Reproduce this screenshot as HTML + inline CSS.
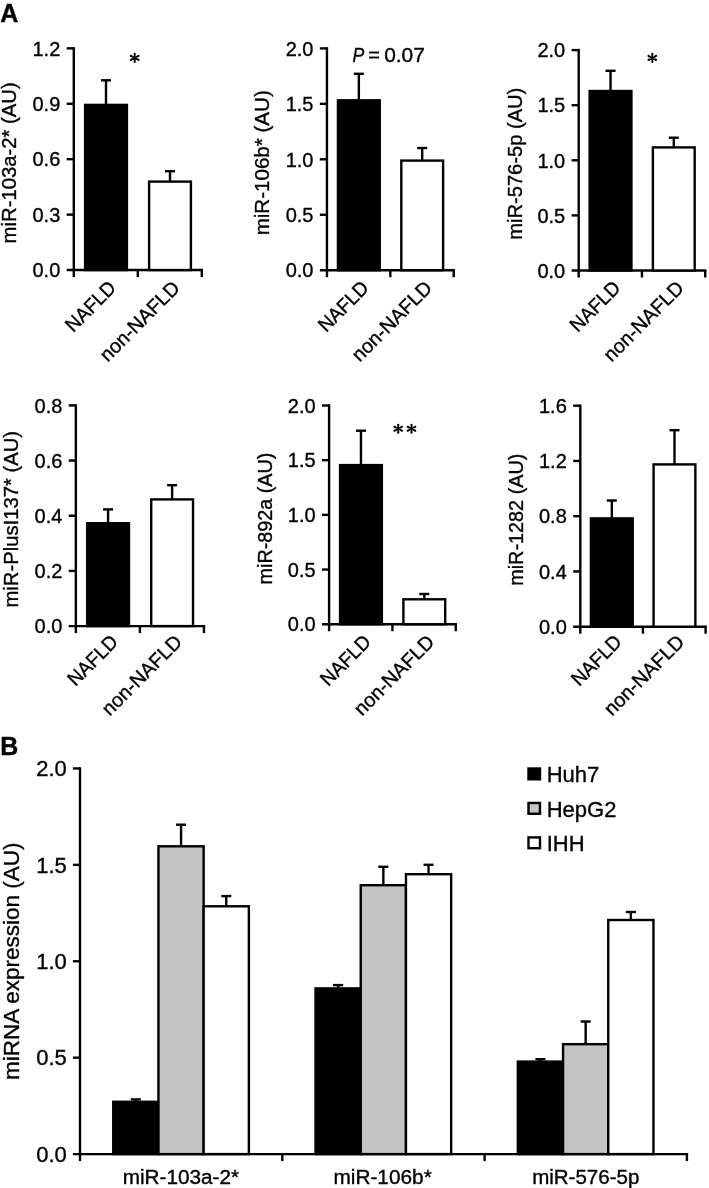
<!DOCTYPE html><html><head><meta charset="utf-8"><style>html,body{margin:0;padding:0;background:#fff;width:709px;height:1188px;overflow:hidden}svg{display:block;filter:grayscale(1)}text{font-family:"Liberation Sans", sans-serif;fill:#000;stroke:#000;stroke-width:0.35px}</style></head><body>
<svg width="709" height="1188" viewBox="0 0 709 1188">
<rect width="709" height="1188" fill="#fff"/>
<g>
<text class="pl" x="0.20" y="21.70" font-size="25" text-anchor="start" font-weight="bold">A</text>
<text class="pl" x="0.20" y="755.40" font-size="25" text-anchor="start" font-weight="bold">B</text>
<line class="ln" x1="73.80" y1="47.15" x2="73.80" y2="271.25" stroke="#000" stroke-width="2.4"/>
<line class="ln" x1="66.70" y1="270.05" x2="203.00" y2="270.05" stroke="#000" stroke-width="2.4"/>
<text class="tl" x="60.30" y="277.25" font-size="20" text-anchor="end" >0.0</text>
<line class="ln" x1="66.70" y1="214.62" x2="73.80" y2="214.62" stroke="#000" stroke-width="2.4"/>
<text class="tl" x="60.30" y="221.82" font-size="20" text-anchor="end" >0.3</text>
<line class="ln" x1="66.70" y1="159.20" x2="73.80" y2="159.20" stroke="#000" stroke-width="2.4"/>
<text class="tl" x="60.30" y="166.40" font-size="20" text-anchor="end" >0.6</text>
<line class="ln" x1="66.70" y1="103.78" x2="73.80" y2="103.78" stroke="#000" stroke-width="2.4"/>
<text class="tl" x="60.30" y="110.98" font-size="20" text-anchor="end" >0.9</text>
<line class="ln" x1="66.70" y1="48.35" x2="73.80" y2="48.35" stroke="#000" stroke-width="2.4"/>
<text class="tl" x="60.30" y="55.55" font-size="20" text-anchor="end" >1.2</text>
<line class="ln" x1="73.80" y1="270.05" x2="73.80" y2="277.05" stroke="#000" stroke-width="2.4"/>
<line class="ln" x1="137.80" y1="270.05" x2="137.80" y2="277.05" stroke="#000" stroke-width="2.4"/>
<line class="ln" x1="201.80" y1="270.05" x2="201.80" y2="277.05" stroke="#000" stroke-width="2.4"/>
<line class="ln" x1="106.00" y1="104.90" x2="106.00" y2="80.30" stroke="#000" stroke-width="2.4"/>
<line class="ln" x1="101.00" y1="80.30" x2="111.00" y2="80.30" stroke="#000" stroke-width="2.4"/>
<rect class="bar" x="85.10" y="104.90" width="41.80" height="165.15" fill="#000" stroke="#000" stroke-width="2.4"/>
<line class="ln" x1="170.00" y1="181.60" x2="170.00" y2="171.20" stroke="#000" stroke-width="2.4"/>
<line class="ln" x1="165.00" y1="171.20" x2="175.00" y2="171.20" stroke="#000" stroke-width="2.4"/>
<rect class="bar" x="149.10" y="181.60" width="41.80" height="88.45" fill="#fff" stroke="#000" stroke-width="2.4"/>
<text class="xl" x="117.20" y="289.20" font-size="20" text-anchor="end" textLength="62.0" lengthAdjust="spacingAndGlyphs" transform="rotate(-45 117.20 289.20)">NAFLD</text>
<text class="xl" x="181.20" y="289.20" font-size="20" text-anchor="end" textLength="104.0" lengthAdjust="spacingAndGlyphs" transform="rotate(-45 181.20 289.20)">non-NAFLD</text>
<text class="yt" x="15.70" y="162.85" font-size="20" text-anchor="middle" textLength="161.1" lengthAdjust="spacingAndGlyphs" transform="rotate(-90 15.70 162.85)">miR-103a-2* (AU)</text>
<path class="ast" d="M135.32 57.90L135.77 53.90L133.62 53.90L134.07 57.90ZM133.62 53.90a1.075 1.075 0 1 0 2.15 0a1.075 1.075 0 1 0 -2.15 0ZM134.07 57.90L133.62 61.90L135.77 61.90L135.32 57.90ZM133.62 61.90a1.075 1.075 0 1 0 2.15 0a1.075 1.075 0 1 0 -2.15 0ZM134.99 58.45L138.96 56.85L137.95 54.96L134.41 57.35ZM137.38 55.90a1.075 1.075 0 1 0 2.15 0a1.075 1.075 0 1 0 -2.15 0ZM134.99 57.35L131.45 54.96L130.44 56.85L134.41 58.45ZM129.87 55.90a1.075 1.075 0 1 0 2.15 0a1.075 1.075 0 1 0 -2.15 0ZM134.41 57.35L130.44 58.95L131.45 60.84L134.99 58.45ZM129.87 59.90a1.075 1.075 0 1 0 2.15 0a1.075 1.075 0 1 0 -2.15 0ZM134.41 58.45L137.95 60.84L138.96 58.95L134.99 57.35ZM137.38 59.90a1.075 1.075 0 1 0 2.15 0a1.075 1.075 0 1 0 -2.15 0Z" fill="#000" fill-rule="nonzero"/>
<line class="ln" x1="326.95" y1="47.20" x2="326.95" y2="271.40" stroke="#000" stroke-width="2.4"/>
<line class="ln" x1="319.85" y1="270.20" x2="454.90" y2="270.20" stroke="#000" stroke-width="2.4"/>
<text class="tl" x="313.45" y="277.40" font-size="20" text-anchor="end" >0.0</text>
<line class="ln" x1="319.85" y1="214.75" x2="326.95" y2="214.75" stroke="#000" stroke-width="2.4"/>
<text class="tl" x="313.45" y="221.95" font-size="20" text-anchor="end" >0.5</text>
<line class="ln" x1="319.85" y1="159.30" x2="326.95" y2="159.30" stroke="#000" stroke-width="2.4"/>
<text class="tl" x="313.45" y="166.50" font-size="20" text-anchor="end" >1.0</text>
<line class="ln" x1="319.85" y1="103.85" x2="326.95" y2="103.85" stroke="#000" stroke-width="2.4"/>
<text class="tl" x="313.45" y="111.05" font-size="20" text-anchor="end" >1.5</text>
<line class="ln" x1="319.85" y1="48.40" x2="326.95" y2="48.40" stroke="#000" stroke-width="2.4"/>
<text class="tl" x="313.45" y="55.60" font-size="20" text-anchor="end" >2.0</text>
<line class="ln" x1="326.95" y1="270.20" x2="326.95" y2="277.20" stroke="#000" stroke-width="2.4"/>
<line class="ln" x1="390.32" y1="270.20" x2="390.32" y2="277.20" stroke="#000" stroke-width="2.4"/>
<line class="ln" x1="453.70" y1="270.20" x2="453.70" y2="277.20" stroke="#000" stroke-width="2.4"/>
<line class="ln" x1="358.84" y1="100.30" x2="358.84" y2="73.80" stroke="#000" stroke-width="2.4"/>
<line class="ln" x1="353.84" y1="73.80" x2="363.84" y2="73.80" stroke="#000" stroke-width="2.4"/>
<rect class="bar" x="337.94" y="100.30" width="41.80" height="169.90" fill="#000" stroke="#000" stroke-width="2.4"/>
<line class="ln" x1="422.21" y1="160.60" x2="422.21" y2="148.00" stroke="#000" stroke-width="2.4"/>
<line class="ln" x1="417.21" y1="148.00" x2="427.21" y2="148.00" stroke="#000" stroke-width="2.4"/>
<rect class="bar" x="401.31" y="160.60" width="41.80" height="109.60" fill="#fff" stroke="#000" stroke-width="2.4"/>
<text class="xl" x="370.04" y="289.20" font-size="20" text-anchor="end" textLength="62.0" lengthAdjust="spacingAndGlyphs" transform="rotate(-45 370.04 289.20)">NAFLD</text>
<text class="xl" x="433.41" y="289.20" font-size="20" text-anchor="end" textLength="104.0" lengthAdjust="spacingAndGlyphs" transform="rotate(-45 433.41 289.20)">non-NAFLD</text>
<text class="yt" x="268.75" y="162.80" font-size="20" text-anchor="middle" textLength="145.1" lengthAdjust="spacingAndGlyphs" transform="rotate(-90 268.75 162.80)">miR-106b* (AU)</text>
<text class="t" x="352.5" y="62" font-size="20" font-style="italic" textLength="11.8" lengthAdjust="spacingAndGlyphs">P</text>
<text class="t" x="374.2" y="62" font-size="20" text-anchor="middle">=</text>
<text class="t" x="384.2" y="62" font-size="20" textLength="40.6" lengthAdjust="spacingAndGlyphs">0.07</text>
<line class="ln" x1="578.70" y1="48.90" x2="578.70" y2="271.70" stroke="#000" stroke-width="2.4"/>
<line class="ln" x1="571.60" y1="270.50" x2="706.40" y2="270.50" stroke="#000" stroke-width="2.4"/>
<text class="tl" x="565.20" y="277.70" font-size="20" text-anchor="end" >0.0</text>
<line class="ln" x1="571.60" y1="215.40" x2="578.70" y2="215.40" stroke="#000" stroke-width="2.4"/>
<text class="tl" x="565.20" y="222.60" font-size="20" text-anchor="end" >0.5</text>
<line class="ln" x1="571.60" y1="160.30" x2="578.70" y2="160.30" stroke="#000" stroke-width="2.4"/>
<text class="tl" x="565.20" y="167.50" font-size="20" text-anchor="end" >1.0</text>
<line class="ln" x1="571.60" y1="105.20" x2="578.70" y2="105.20" stroke="#000" stroke-width="2.4"/>
<text class="tl" x="565.20" y="112.40" font-size="20" text-anchor="end" >1.5</text>
<line class="ln" x1="571.60" y1="50.10" x2="578.70" y2="50.10" stroke="#000" stroke-width="2.4"/>
<text class="tl" x="565.20" y="57.30" font-size="20" text-anchor="end" >2.0</text>
<line class="ln" x1="578.70" y1="270.50" x2="578.70" y2="277.50" stroke="#000" stroke-width="2.4"/>
<line class="ln" x1="641.95" y1="270.50" x2="641.95" y2="277.50" stroke="#000" stroke-width="2.4"/>
<line class="ln" x1="705.20" y1="270.50" x2="705.20" y2="277.50" stroke="#000" stroke-width="2.4"/>
<line class="ln" x1="610.53" y1="91.00" x2="610.53" y2="70.80" stroke="#000" stroke-width="2.4"/>
<line class="ln" x1="605.53" y1="70.80" x2="615.53" y2="70.80" stroke="#000" stroke-width="2.4"/>
<rect class="bar" x="589.63" y="91.00" width="41.80" height="179.50" fill="#000" stroke="#000" stroke-width="2.4"/>
<line class="ln" x1="673.78" y1="147.40" x2="673.78" y2="137.70" stroke="#000" stroke-width="2.4"/>
<line class="ln" x1="668.78" y1="137.70" x2="678.78" y2="137.70" stroke="#000" stroke-width="2.4"/>
<rect class="bar" x="652.88" y="147.40" width="41.80" height="123.10" fill="#fff" stroke="#000" stroke-width="2.4"/>
<text class="xl" x="621.73" y="289.20" font-size="20" text-anchor="end" textLength="62.0" lengthAdjust="spacingAndGlyphs" transform="rotate(-45 621.73 289.20)">NAFLD</text>
<text class="xl" x="684.98" y="289.20" font-size="20" text-anchor="end" textLength="104.0" lengthAdjust="spacingAndGlyphs" transform="rotate(-45 684.98 289.20)">non-NAFLD</text>
<text class="yt" x="522.40" y="163.70" font-size="20" text-anchor="middle" textLength="152" lengthAdjust="spacingAndGlyphs" transform="rotate(-90 522.40 163.70)">miR-576-5p (AU)</text>
<path class="ast" d="M652.92 57.95L653.38 53.95L651.22 53.95L651.67 57.95ZM651.22 53.95a1.075 1.075 0 1 0 2.15 0a1.075 1.075 0 1 0 -2.15 0ZM651.67 57.95L651.22 61.95L653.38 61.95L652.92 57.95ZM651.22 61.95a1.075 1.075 0 1 0 2.15 0a1.075 1.075 0 1 0 -2.15 0ZM652.59 58.50L656.56 56.90L655.55 55.01L652.01 57.40ZM654.98 55.95a1.075 1.075 0 1 0 2.15 0a1.075 1.075 0 1 0 -2.15 0ZM652.59 57.40L649.05 55.01L648.04 56.90L652.01 58.50ZM647.47 55.95a1.075 1.075 0 1 0 2.15 0a1.075 1.075 0 1 0 -2.15 0ZM652.01 57.40L648.04 59.00L649.05 60.89L652.59 58.50ZM647.47 59.95a1.075 1.075 0 1 0 2.15 0a1.075 1.075 0 1 0 -2.15 0ZM652.01 58.50L655.55 60.89L656.56 59.00L652.59 57.40ZM654.98 59.95a1.075 1.075 0 1 0 2.15 0a1.075 1.075 0 1 0 -2.15 0Z" fill="#000" fill-rule="nonzero"/>
<line class="ln" x1="75.85" y1="404.20" x2="75.85" y2="627.30" stroke="#000" stroke-width="2.4"/>
<line class="ln" x1="68.75" y1="626.10" x2="205.15" y2="626.10" stroke="#000" stroke-width="2.4"/>
<text class="tl" x="62.35" y="633.30" font-size="20" text-anchor="end" >0.0</text>
<line class="ln" x1="68.75" y1="570.92" x2="75.85" y2="570.92" stroke="#000" stroke-width="2.4"/>
<text class="tl" x="62.35" y="578.12" font-size="20" text-anchor="end" >0.2</text>
<line class="ln" x1="68.75" y1="515.75" x2="75.85" y2="515.75" stroke="#000" stroke-width="2.4"/>
<text class="tl" x="62.35" y="522.95" font-size="20" text-anchor="end" >0.4</text>
<line class="ln" x1="68.75" y1="460.57" x2="75.85" y2="460.57" stroke="#000" stroke-width="2.4"/>
<text class="tl" x="62.35" y="467.77" font-size="20" text-anchor="end" >0.6</text>
<line class="ln" x1="68.75" y1="405.40" x2="75.85" y2="405.40" stroke="#000" stroke-width="2.4"/>
<text class="tl" x="62.35" y="412.60" font-size="20" text-anchor="end" >0.8</text>
<line class="ln" x1="75.85" y1="626.10" x2="75.85" y2="633.10" stroke="#000" stroke-width="2.4"/>
<line class="ln" x1="139.90" y1="626.10" x2="139.90" y2="633.10" stroke="#000" stroke-width="2.4"/>
<line class="ln" x1="203.95" y1="626.10" x2="203.95" y2="633.10" stroke="#000" stroke-width="2.4"/>
<line class="ln" x1="108.08" y1="523.20" x2="108.08" y2="509.40" stroke="#000" stroke-width="2.4"/>
<line class="ln" x1="103.08" y1="509.40" x2="113.08" y2="509.40" stroke="#000" stroke-width="2.4"/>
<rect class="bar" x="87.18" y="523.20" width="41.80" height="102.90" fill="#000" stroke="#000" stroke-width="2.4"/>
<line class="ln" x1="172.12" y1="499.40" x2="172.12" y2="485.20" stroke="#000" stroke-width="2.4"/>
<line class="ln" x1="167.12" y1="485.20" x2="177.12" y2="485.20" stroke="#000" stroke-width="2.4"/>
<rect class="bar" x="151.22" y="499.40" width="41.80" height="126.70" fill="#fff" stroke="#000" stroke-width="2.4"/>
<text class="xl" x="119.28" y="643.20" font-size="20" text-anchor="end" textLength="62.0" lengthAdjust="spacingAndGlyphs" transform="rotate(-45 119.28 643.20)">NAFLD</text>
<text class="xl" x="183.32" y="643.20" font-size="20" text-anchor="end" textLength="104.0" lengthAdjust="spacingAndGlyphs" transform="rotate(-45 183.32 643.20)">non-NAFLD</text>
<text class="yt" x="17.60" y="519.20" font-size="20" text-anchor="middle" textLength="176.6" lengthAdjust="spacingAndGlyphs" transform="rotate(-90 17.60 519.20)">miR-PlusI137* (AU)</text>
<line class="ln" x1="329.10" y1="404.30" x2="329.10" y2="625.45" stroke="#000" stroke-width="2.4"/>
<line class="ln" x1="322.00" y1="624.25" x2="456.95" y2="624.25" stroke="#000" stroke-width="2.4"/>
<text class="tl" x="315.60" y="631.45" font-size="20" text-anchor="end" >0.0</text>
<line class="ln" x1="322.00" y1="569.56" x2="329.10" y2="569.56" stroke="#000" stroke-width="2.4"/>
<text class="tl" x="315.60" y="576.76" font-size="20" text-anchor="end" >0.5</text>
<line class="ln" x1="322.00" y1="514.88" x2="329.10" y2="514.88" stroke="#000" stroke-width="2.4"/>
<text class="tl" x="315.60" y="522.08" font-size="20" text-anchor="end" >1.0</text>
<line class="ln" x1="322.00" y1="460.19" x2="329.10" y2="460.19" stroke="#000" stroke-width="2.4"/>
<text class="tl" x="315.60" y="467.39" font-size="20" text-anchor="end" >1.5</text>
<line class="ln" x1="322.00" y1="405.50" x2="329.10" y2="405.50" stroke="#000" stroke-width="2.4"/>
<text class="tl" x="315.60" y="412.70" font-size="20" text-anchor="end" >2.0</text>
<line class="ln" x1="329.10" y1="624.25" x2="329.10" y2="631.25" stroke="#000" stroke-width="2.4"/>
<line class="ln" x1="392.43" y1="624.25" x2="392.43" y2="631.25" stroke="#000" stroke-width="2.4"/>
<line class="ln" x1="455.75" y1="624.25" x2="455.75" y2="631.25" stroke="#000" stroke-width="2.4"/>
<line class="ln" x1="360.96" y1="465.10" x2="360.96" y2="430.70" stroke="#000" stroke-width="2.4"/>
<line class="ln" x1="355.96" y1="430.70" x2="365.96" y2="430.70" stroke="#000" stroke-width="2.4"/>
<rect class="bar" x="340.06" y="465.10" width="41.80" height="159.15" fill="#000" stroke="#000" stroke-width="2.4"/>
<line class="ln" x1="424.29" y1="599.30" x2="424.29" y2="594.00" stroke="#000" stroke-width="2.4"/>
<line class="ln" x1="419.29" y1="594.00" x2="429.29" y2="594.00" stroke="#000" stroke-width="2.4"/>
<rect class="bar" x="403.39" y="599.30" width="41.80" height="24.95" fill="#fff" stroke="#000" stroke-width="2.4"/>
<text class="xl" x="372.16" y="643.20" font-size="20" text-anchor="end" textLength="62.0" lengthAdjust="spacingAndGlyphs" transform="rotate(-45 372.16 643.20)">NAFLD</text>
<text class="xl" x="435.49" y="643.20" font-size="20" text-anchor="end" textLength="104.0" lengthAdjust="spacingAndGlyphs" transform="rotate(-45 435.49 643.20)">non-NAFLD</text>
<text class="yt" x="272.40" y="518.55" font-size="20" text-anchor="middle" textLength="131.7" lengthAdjust="spacingAndGlyphs" transform="rotate(-90 272.40 518.55)">miR-892a (AU)</text>
<path class="ast" d="M398.82 428.80L399.27 424.80L397.12 424.80L397.57 428.80ZM397.12 424.80a1.075 1.075 0 1 0 2.15 0a1.075 1.075 0 1 0 -2.15 0ZM397.57 428.80L397.12 432.80L399.27 432.80L398.82 428.80ZM397.12 432.80a1.075 1.075 0 1 0 2.15 0a1.075 1.075 0 1 0 -2.15 0ZM398.49 429.35L402.46 427.75L401.45 425.86L397.91 428.25ZM400.88 426.80a1.075 1.075 0 1 0 2.15 0a1.075 1.075 0 1 0 -2.15 0ZM398.49 428.25L394.95 425.86L393.94 427.75L397.91 429.35ZM393.37 426.80a1.075 1.075 0 1 0 2.15 0a1.075 1.075 0 1 0 -2.15 0ZM397.91 428.25L393.94 429.85L394.95 431.74L398.49 429.35ZM393.37 430.80a1.075 1.075 0 1 0 2.15 0a1.075 1.075 0 1 0 -2.15 0ZM397.91 429.35L401.45 431.74L402.46 429.85L398.49 428.25ZM400.88 430.80a1.075 1.075 0 1 0 2.15 0a1.075 1.075 0 1 0 -2.15 0Z" fill="#000" fill-rule="nonzero"/>
<path class="ast" d="M412.12 428.80L412.57 424.80L410.43 424.80L410.88 428.80ZM410.43 424.80a1.075 1.075 0 1 0 2.15 0a1.075 1.075 0 1 0 -2.15 0ZM410.88 428.80L410.43 432.80L412.57 432.80L412.12 428.80ZM410.43 432.80a1.075 1.075 0 1 0 2.15 0a1.075 1.075 0 1 0 -2.15 0ZM411.79 429.35L415.76 427.75L414.75 425.86L411.21 428.25ZM414.18 426.80a1.075 1.075 0 1 0 2.15 0a1.075 1.075 0 1 0 -2.15 0ZM411.79 428.25L408.25 425.86L407.24 427.75L411.21 429.35ZM406.67 426.80a1.075 1.075 0 1 0 2.15 0a1.075 1.075 0 1 0 -2.15 0ZM411.21 428.25L407.24 429.85L408.25 431.74L411.79 429.35ZM406.67 430.80a1.075 1.075 0 1 0 2.15 0a1.075 1.075 0 1 0 -2.15 0ZM411.21 429.35L414.75 431.74L415.76 429.85L411.79 428.25ZM414.18 430.80a1.075 1.075 0 1 0 2.15 0a1.075 1.075 0 1 0 -2.15 0Z" fill="#000" fill-rule="nonzero"/>
<line class="ln" x1="580.30" y1="404.50" x2="580.30" y2="627.90" stroke="#000" stroke-width="2.4"/>
<line class="ln" x1="573.20" y1="626.70" x2="706.80" y2="626.70" stroke="#000" stroke-width="2.4"/>
<text class="tl" x="566.80" y="633.90" font-size="20" text-anchor="end" >0.0</text>
<line class="ln" x1="573.20" y1="571.45" x2="580.30" y2="571.45" stroke="#000" stroke-width="2.4"/>
<text class="tl" x="566.80" y="578.65" font-size="20" text-anchor="end" >0.4</text>
<line class="ln" x1="573.20" y1="516.20" x2="580.30" y2="516.20" stroke="#000" stroke-width="2.4"/>
<text class="tl" x="566.80" y="523.40" font-size="20" text-anchor="end" >0.8</text>
<line class="ln" x1="573.20" y1="460.95" x2="580.30" y2="460.95" stroke="#000" stroke-width="2.4"/>
<text class="tl" x="566.80" y="468.15" font-size="20" text-anchor="end" >1.2</text>
<line class="ln" x1="573.20" y1="405.70" x2="580.30" y2="405.70" stroke="#000" stroke-width="2.4"/>
<text class="tl" x="566.80" y="412.90" font-size="20" text-anchor="end" >1.6</text>
<line class="ln" x1="580.30" y1="626.70" x2="580.30" y2="633.70" stroke="#000" stroke-width="2.4"/>
<line class="ln" x1="642.95" y1="626.70" x2="642.95" y2="633.70" stroke="#000" stroke-width="2.4"/>
<line class="ln" x1="705.60" y1="626.70" x2="705.60" y2="633.70" stroke="#000" stroke-width="2.4"/>
<line class="ln" x1="611.83" y1="518.40" x2="611.83" y2="500.50" stroke="#000" stroke-width="2.4"/>
<line class="ln" x1="606.83" y1="500.50" x2="616.83" y2="500.50" stroke="#000" stroke-width="2.4"/>
<rect class="bar" x="590.93" y="518.40" width="41.80" height="108.30" fill="#000" stroke="#000" stroke-width="2.4"/>
<line class="ln" x1="674.48" y1="464.40" x2="674.48" y2="430.20" stroke="#000" stroke-width="2.4"/>
<line class="ln" x1="669.48" y1="430.20" x2="679.48" y2="430.20" stroke="#000" stroke-width="2.4"/>
<rect class="bar" x="653.58" y="464.40" width="41.80" height="162.30" fill="#fff" stroke="#000" stroke-width="2.4"/>
<text class="xl" x="623.02" y="643.20" font-size="20" text-anchor="end" textLength="62.0" lengthAdjust="spacingAndGlyphs" transform="rotate(-45 623.02 643.20)">NAFLD</text>
<text class="xl" x="685.67" y="643.20" font-size="20" text-anchor="end" textLength="104.0" lengthAdjust="spacingAndGlyphs" transform="rotate(-45 685.67 643.20)">non-NAFLD</text>
<text class="yt" x="522.80" y="519.70" font-size="20" text-anchor="middle" textLength="132.2" lengthAdjust="spacingAndGlyphs" transform="rotate(-90 522.80 519.70)">miR-1282 (AU)</text>
<line class="ln" x1="80.00" y1="767.25" x2="80.00" y2="1155.30" stroke="#000" stroke-width="2.4"/>
<line class="ln" x1="72.90" y1="1154.10" x2="688.10" y2="1154.10" stroke="#000" stroke-width="2.4"/>
<text class="tl" x="66.80" y="1161.80" font-size="22" text-anchor="end" >0.0</text>
<line class="ln" x1="72.90" y1="1057.69" x2="80.00" y2="1057.69" stroke="#000" stroke-width="2.4"/>
<text class="tl" x="66.80" y="1065.39" font-size="22" text-anchor="end" >0.5</text>
<line class="ln" x1="72.90" y1="961.27" x2="80.00" y2="961.27" stroke="#000" stroke-width="2.4"/>
<text class="tl" x="66.80" y="968.98" font-size="22" text-anchor="end" >1.0</text>
<line class="ln" x1="72.90" y1="864.86" x2="80.00" y2="864.86" stroke="#000" stroke-width="2.4"/>
<text class="tl" x="66.80" y="872.56" font-size="22" text-anchor="end" >1.5</text>
<line class="ln" x1="72.90" y1="768.45" x2="80.00" y2="768.45" stroke="#000" stroke-width="2.4"/>
<text class="tl" x="66.80" y="776.15" font-size="22" text-anchor="end" >2.0</text>
<line class="ln" x1="80.00" y1="1154.10" x2="80.00" y2="1161.10" stroke="#000" stroke-width="2.4"/>
<line class="ln" x1="282.30" y1="1154.10" x2="282.30" y2="1161.10" stroke="#000" stroke-width="2.4"/>
<line class="ln" x1="484.60" y1="1154.10" x2="484.60" y2="1161.10" stroke="#000" stroke-width="2.4"/>
<line class="ln" x1="686.90" y1="1154.10" x2="686.90" y2="1161.10" stroke="#000" stroke-width="2.4"/>
<line class="ln" x1="135.85" y1="1101.80" x2="135.85" y2="1099.40" stroke="#000" stroke-width="2.4"/>
<line class="ln" x1="130.85" y1="1099.40" x2="140.85" y2="1099.40" stroke="#000" stroke-width="2.4"/>
<line class="ln" x1="181.05" y1="846.30" x2="181.05" y2="824.70" stroke="#000" stroke-width="2.4"/>
<line class="ln" x1="176.05" y1="824.70" x2="186.05" y2="824.70" stroke="#000" stroke-width="2.4"/>
<line class="ln" x1="226.25" y1="906.30" x2="226.25" y2="896.10" stroke="#000" stroke-width="2.4"/>
<line class="ln" x1="221.25" y1="896.10" x2="231.25" y2="896.10" stroke="#000" stroke-width="2.4"/>
<rect class="bar" x="113.25" y="1101.80" width="45.20" height="52.30" fill="#000" stroke="#000" stroke-width="2.4"/>
<rect class="bar" x="158.45" y="846.30" width="45.20" height="307.80" fill="#c4c4c4" stroke="#000" stroke-width="2.4"/>
<rect class="bar" x="203.65" y="906.30" width="45.20" height="247.80" fill="#fff" stroke="#000" stroke-width="2.4"/>
<line class="ln" x1="338.15" y1="988.40" x2="338.15" y2="985.10" stroke="#000" stroke-width="2.4"/>
<line class="ln" x1="333.15" y1="985.10" x2="343.15" y2="985.10" stroke="#000" stroke-width="2.4"/>
<line class="ln" x1="383.35" y1="885.20" x2="383.35" y2="866.80" stroke="#000" stroke-width="2.4"/>
<line class="ln" x1="378.35" y1="866.80" x2="388.35" y2="866.80" stroke="#000" stroke-width="2.4"/>
<line class="ln" x1="428.55" y1="874.20" x2="428.55" y2="864.80" stroke="#000" stroke-width="2.4"/>
<line class="ln" x1="423.55" y1="864.80" x2="433.55" y2="864.80" stroke="#000" stroke-width="2.4"/>
<rect class="bar" x="315.55" y="988.40" width="45.20" height="165.70" fill="#000" stroke="#000" stroke-width="2.4"/>
<rect class="bar" x="360.75" y="885.20" width="45.20" height="268.90" fill="#c4c4c4" stroke="#000" stroke-width="2.4"/>
<rect class="bar" x="405.95" y="874.20" width="45.20" height="279.90" fill="#fff" stroke="#000" stroke-width="2.4"/>
<line class="ln" x1="540.45" y1="1061.60" x2="540.45" y2="1059.20" stroke="#000" stroke-width="2.4"/>
<line class="ln" x1="535.45" y1="1059.20" x2="545.45" y2="1059.20" stroke="#000" stroke-width="2.4"/>
<line class="ln" x1="585.65" y1="1044.20" x2="585.65" y2="1021.50" stroke="#000" stroke-width="2.4"/>
<line class="ln" x1="580.65" y1="1021.50" x2="590.65" y2="1021.50" stroke="#000" stroke-width="2.4"/>
<line class="ln" x1="630.85" y1="920.00" x2="630.85" y2="912.00" stroke="#000" stroke-width="2.4"/>
<line class="ln" x1="625.85" y1="912.00" x2="635.85" y2="912.00" stroke="#000" stroke-width="2.4"/>
<rect class="bar" x="517.85" y="1061.60" width="45.20" height="92.50" fill="#000" stroke="#000" stroke-width="2.4"/>
<rect class="bar" x="563.05" y="1044.20" width="45.20" height="109.90" fill="#c4c4c4" stroke="#000" stroke-width="2.4"/>
<rect class="bar" x="608.25" y="920.00" width="45.20" height="234.10" fill="#fff" stroke="#000" stroke-width="2.4"/>
<text class="cl" x="180.90" y="1183.80" font-size="20" text-anchor="middle" textLength="116.45" lengthAdjust="spacingAndGlyphs">miR-103a-2*</text>
<text class="cl" x="382.60" y="1183.80" font-size="20" text-anchor="middle" textLength="98.3" lengthAdjust="spacingAndGlyphs">miR-106b*</text>
<text class="cl" x="585.75" y="1183.80" font-size="20" text-anchor="middle" textLength="107.2" lengthAdjust="spacingAndGlyphs">miR-576-5p</text>
<text class="yt" x="18.9" y="961.2" font-size="22.4" text-anchor="middle" textLength="237.4" lengthAdjust="spacingAndGlyphs" transform="rotate(-90 18.9 961.2)">miRNA expression (AU)</text>
<rect class="lg" x="528.5" y="768.50" width="11.5" height="10.8" fill="#000" stroke="#000" stroke-width="2.4"/>
<text class="lg" x="546.70" y="782.40" font-size="22" text-anchor="start" >Huh7</text>
<rect class="lg" x="528.5" y="802.95" width="11.5" height="10.8" fill="#c4c4c4" stroke="#000" stroke-width="2.4"/>
<text class="lg" x="546.70" y="816.85" font-size="22" text-anchor="start" >HepG2</text>
<rect class="lg" x="528.5" y="837.40" width="11.5" height="10.8" fill="#fff" stroke="#000" stroke-width="2.4"/>
<text class="lg" x="546.70" y="851.30" font-size="22" text-anchor="start" >IHH</text>
</g></svg></body></html>
